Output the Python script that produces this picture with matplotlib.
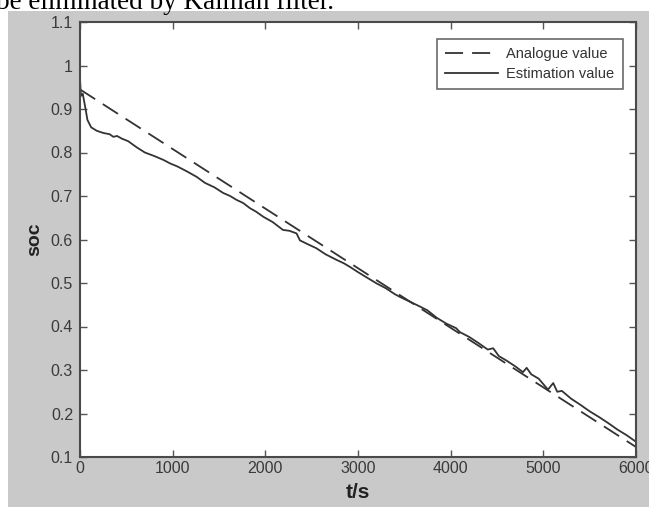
import matplotlib.pyplot as plt
from matplotlib.patches import Rectangle

# Analogue value (straight dashed line)
t_analogue = [0, 6000]
soc_analogue = [0.945, 0.123]

# Estimation value
t_est = [0, 10, 30, 60, 80, 120, 180, 250, 320, 360, 400, 450, 520, 611, 700,
         800, 900, 971, 1050, 1150, 1259, 1350, 1450, 1545, 1620, 1690, 1760,
         1834, 1900, 1980, 2080, 2190, 2260, 2337, 2373, 2450, 2550, 2650,
         2770, 2850, 2913, 3000, 3100, 3201, 3300, 3400, 3453, 3550, 3668,
         3750, 3850, 3950, 4000, 4060, 4100, 4200, 4300, 4400, 4459, 4520,
         4600, 4700, 4780, 4820, 4870, 4950, 5050, 5107, 5150, 5200, 5300,
         5400, 5500, 5600, 5700, 5800, 5900, 6000]
soc_est = [0.97, 0.93, 0.935, 0.90, 0.875, 0.858, 0.850, 0.845, 0.842, 0.836,
           0.838, 0.832, 0.826, 0.812, 0.800, 0.792, 0.783, 0.775, 0.768,
           0.757, 0.744, 0.730, 0.720, 0.707, 0.700, 0.691, 0.684, 0.672,
           0.664, 0.652, 0.640, 0.622, 0.620, 0.614, 0.598, 0.590, 0.580,
           0.566, 0.553, 0.545, 0.537, 0.525, 0.512, 0.499, 0.488, 0.474,
           0.468, 0.458, 0.446, 0.437, 0.420, 0.407, 0.402, 0.396, 0.387,
           0.376, 0.362, 0.347, 0.350, 0.332, 0.322, 0.308, 0.295, 0.305,
           0.290, 0.280, 0.255, 0.270, 0.250, 0.252, 0.234, 0.220, 0.205,
           0.192, 0.178, 0.163, 0.150, 0.135]

x_ticks = [0, 1000, 2000, 3000, 4000, 5000, 6000]
y_ticks = [0.1, 0.2, 0.3, 0.4, 0.5, 0.6, 0.7, 0.8, 0.9, 1, 1.1]
y_tick_labels = ['0.1', '0.2', '0.3', '0.4', '0.5', '0.6', '0.7', '0.8', '0.9', '1', '1.1']

W, H = 649, 507
fig = plt.figure(figsize=(W / 100, H / 100), dpi=100)
fig.patch.set_facecolor('white')

# grey figure background (MATLAB style), cropped screenshot
bg = Rectangle((8 / W, 0), 1 - 8 / W, (H - 11) / H, transform=fig.transFigure,
               facecolor='#c9c9c9', edgecolor='none', zorder=-5)
fig.add_artist(bg)

# cropped caption line above the figure
fig.text(-4 / W, 1 - 9 / H, 'be eliminated by Kalman filter.', family='Liberation Serif',
         fontsize=19.5, ha='left', va='baseline', color='black')

ax = fig.add_axes([80 / W, (H - 457) / H, (636 - 80) / W, (457 - 22) / H])
ax.set_zorder(2)
ax.set_facecolor('white')

ax.plot(t_analogue, soc_analogue, color='#333333', lw=1.3, dashes=(10, 5),
        label='Analogue value')
ax.plot(t_est, soc_est, color='#333333', lw=1.3, label='Estimation value')

ax.set_xlim(0, 6000)
ax.set_ylim(0.1, 1.1)
ax.set_xticks(x_ticks)
ax.set_yticks(y_ticks)
ax.set_yticklabels(y_tick_labels)
ax.tick_params(direction='in', top=True, right=True, length=5, width=1,
               color='#555555', labelsize=11.5, labelcolor='#3a3a3a')
ax.tick_params(axis='y', pad=5)
ax.tick_params(axis='x', pad=3)
for lab in ax.get_xticklabels() + ax.get_yticklabels():
    lab.set_family('Liberation Sans')
for sp in ax.spines.values():
    sp.set_color('#4a4a4a')
    sp.set_linewidth(1.5)

ax.set_xlabel('t/s', fontsize=15, fontweight='bold', family='Liberation Sans',
              color='#222222', labelpad=5)
ax.set_ylabel('soc', fontsize=14, fontweight='bold', family='Liberation Sans',
              color='#222222', labelpad=5)

leg = ax.legend(loc='upper right', frameon=True, fancybox=False,
                handlelength=3.6, borderpad=0.55, labelspacing=0.45, handletextpad=0.6,
                bbox_to_anchor=(0.989, 0.978), prop={'family': 'Liberation Sans', 'size': 10.5})
leg.get_frame().set_edgecolor('#444444')
leg.get_frame().set_linewidth(1.2)
for txt in leg.get_texts():
    txt.set_color('#333333')

plt.savefig('out.png', dpi=100)
